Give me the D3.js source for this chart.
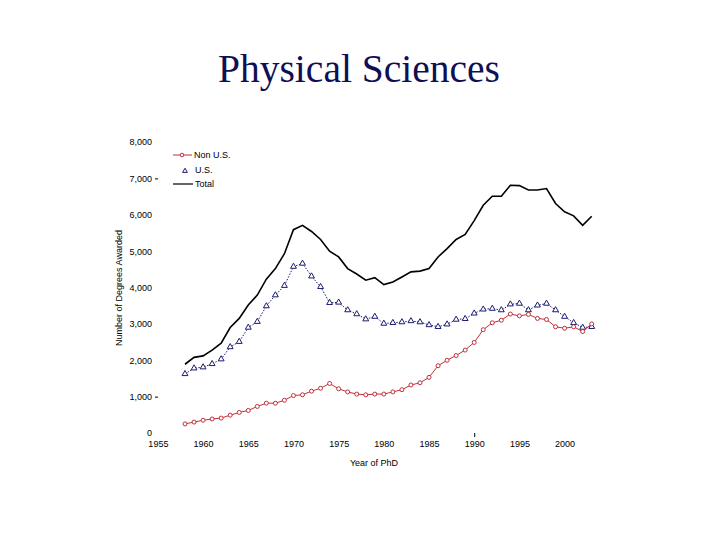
<!DOCTYPE html>
<html><head><meta charset="utf-8">
<script src="https://cdn.jsdelivr.net/npm/d3@7"></script>
<style>body{margin:0;background:#fff}svg{display:block}</style>
</head><body>
<script>
const years = d3.range(1958, 2004);
const nonUS = [250,300,350,385,410,490,565,620,730,820,820,900,1030,1050,1150,1230,1360,1215,1130,1070,1050,1070,1070,1130,1190,1320,1380,1530,1850,2000,2130,2280,2490,2840,3030,3100,3270,3220,3260,3150,3120,2920,2880,2920,2790,3000];
const us = [1625,1780,1810,1900,2030,2365,2510,2900,3060,3490,3790,4050,4575,4660,4310,4020,3580,3590,3380,3270,3130,3200,3010,3030,3050,3080,3050,2970,2920,2990,3120,3140,3290,3400,3420,3380,3540,3560,3380,3510,3560,3380,3200,3030,2900,2920];
const total = [1890,2080,2120,2280,2470,2900,3150,3520,3790,4230,4520,4930,5590,5710,5540,5320,5000,4840,4520,4370,4200,4270,4080,4150,4290,4430,4450,4520,4840,5070,5320,5460,5840,6260,6510,6510,6810,6800,6680,6680,6720,6310,6080,5970,5710,5960];
const xTicks = [1955,1960,1965,1970,1975,1980,1985,1990,1995,2000];
const yTicks = [0,1000,2000,3000,4000,5000,6000,7000,8000];
const seriesNames = ["Non U.S.","U.S.","Total"];

const W = 720, H = 540;
const svg = d3.select("body").append("svg").attr("width", W).attr("height", H);

svg.append("text").attr("x", 359).attr("y", 82).attr("text-anchor","middle")
  .attr("font-family","'Liberation Serif','Times New Roman',serif").attr("font-size",39.5)
  .attr("fill","#0f0f55").text("Physical Sciences");

const x = d3.scaleLinear().domain([1958, 2003]).range([185, 591.7]);
const y = d3.scaleLinear().domain([0, 8000]).range([433, 142]);

const font = "'Liberation Sans',Arial,sans-serif";

// Y axis (labels only)
const yAx = svg.append("g").attr("transform","translate(152,0)")
  .call(d3.axisLeft(y).tickValues(yTicks).tickFormat(d3.format(",")).tickSize(0).tickPadding(0));
yAx.select(".domain").remove();
yAx.selectAll("text").attr("font-family",font).attr("font-size",9).attr("fill","#000");
// small dashes beside 1,000 and 7,000
svg.selectAll(".dash").data([1000,7000]).enter().append("line")
  .attr("x1",155).attr("x2",158).attr("y1",d=>y(d)+0.5).attr("y2",d=>y(d)+0.5)
  .attr("stroke","#000").attr("stroke-width",1);

// X axis (labels only)
const xAx = svg.append("g").attr("transform","translate(0,441)")
  .call(d3.axisBottom(x).tickValues(xTicks).tickFormat(d3.format("d")).tickSize(0).tickPadding(0));
xAx.select(".domain").remove();
xAx.selectAll("text").attr("font-family",font).attr("font-size",9).attr("fill","#000");
svg.append("line").attr("x1",x(1990)+0.5).attr("x2",x(1990)+0.5).attr("y1",433).attr("y2",437).attr("stroke","#000");

svg.append("text").attr("x",374).attr("y",466).attr("text-anchor","middle")
  .attr("font-family",font).attr("font-size",9).text("Year of PhD");
svg.append("text").attr("transform","translate(122,288) rotate(-90)").attr("text-anchor","middle")
  .attr("font-family",font).attr("font-size",9).text("Number of Degrees Awarded");

const line = d3.line().x((d,i)=>x(years[i])).y(d=>y(d));

// Total
svg.append("path").attr("d", line(total)).attr("fill","none").attr("stroke","#000").attr("stroke-width",1.6);

// U.S.
const navy = "#1c1c6e";
svg.append("path").attr("d", line(us)).attr("fill","none").attr("stroke",navy).attr("stroke-width",1).attr("stroke-dasharray","1.5,1.5");
const tri = d3.symbol().type(d3.symbolTriangle).size(15);
svg.selectAll(".tri").data(us).enter().append("path")
  .attr("transform",(d,i)=>`translate(${x(years[i])},${y(d)})`).attr("d",tri())
  .attr("fill","#fff").attr("stroke",navy).attr("stroke-width",1);

// Non U.S.
const red = "#c0303a";
svg.append("path").attr("d", line(nonUS)).attr("fill","none").attr("stroke",red).attr("stroke-width",1);
svg.selectAll(".circ").data(nonUS).enter().append("circle")
  .attr("cx",(d,i)=>x(years[i])).attr("cy",d=>y(d)).attr("r",2)
  .attr("fill","#fff").attr("stroke",red).attr("stroke-width",1);

// Legend
const lg = svg.append("g").attr("font-family",font).attr("font-size",9);
lg.append("line").attr("x1",173).attr("x2",192).attr("y1",155).attr("y2",155).attr("stroke",red);
lg.append("circle").attr("cx",182).attr("cy",155).attr("r",1.8).attr("fill","#fff").attr("stroke",red);
lg.append("text").attr("x",194).attr("y",158).text(seriesNames[0]);
lg.append("path").attr("transform","translate(185,171)").attr("d",d3.symbol().type(d3.symbolTriangle).size(10)()).attr("fill","#fff").attr("stroke",navy);
lg.append("text").attr("x",195).attr("y",173).text(seriesNames[1]);
lg.append("line").attr("x1",173).attr("x2",193).attr("y1",184).attr("y2",184).attr("stroke","#000").attr("stroke-width",1.2);
lg.append("text").attr("x",195).attr("y",187).text(seriesNames[2]);
</script>
</body></html>
